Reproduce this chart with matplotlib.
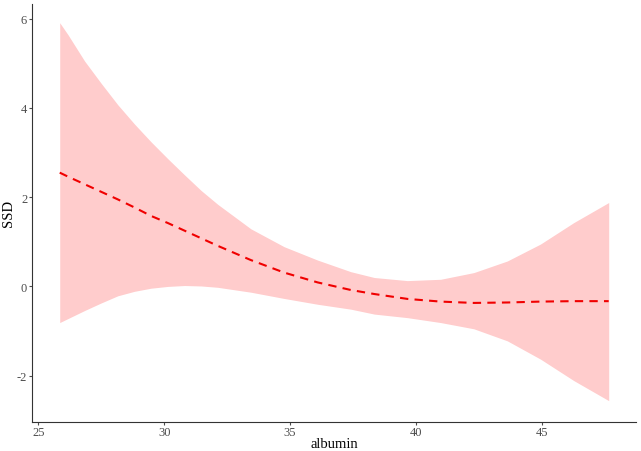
import matplotlib
matplotlib.use("Agg")
import matplotlib.pyplot as plt

# values
albumin = [25.85, 26.18, 26.84, 27.50, 28.16, 28.82, 29.48, 30.15, 30.81, 31.47,
           32.13, 33.45, 34.77, 36.10, 37.42, 38.35, 39.67, 40.99, 42.31, 43.64,
           44.96, 46.28, 47.67]
ssd_fit = [2.55, 2.46, 2.29, 2.12, 1.95, 1.77, 1.58, 1.42, 1.25, 1.08,
           0.91, 0.59, 0.31, 0.09, -0.08, -0.17, -0.28, -0.34, -0.37, -0.36,
           -0.34, -0.33, -0.33]
ssd_upper = [5.91, 5.64, 5.05, 4.55, 4.07, 3.64, 3.24, 2.86, 2.50, 2.15,
             1.84, 1.29, 0.89, 0.59, 0.33, 0.20, 0.13, 0.16, 0.31, 0.57,
             0.95, 1.43, 1.88]
ssd_lower = [-0.81, -0.72, -0.54, -0.37, -0.21, -0.11, -0.04, 0.00, 0.02, 0.01,
             -0.02, -0.13, -0.27, -0.40, -0.51, -0.62, -0.70, -0.81, -0.95, -1.22,
             -1.63, -2.11, -2.56]
x_ticks = [25, 30, 35, 40, 45]
y_ticks = [-2, 0, 2, 4, 6]

plt.rcParams['font.family'] = ['Liberation Serif', 'DejaVu Serif']
plt.rcParams['axes.unicode_minus'] = False

fig = plt.figure(figsize=(6.41, 4.52), dpi=100)
ax = fig.add_axes([0.05, 0.065, 0.942, 0.924])

ax.fill_between(albumin, ssd_lower, ssd_upper, color='#FFCCCC', linewidth=0)
ax.plot(albumin, ssd_fit, color='#F00000', linestyle=(0, (4, 3)), linewidth=1.5)

ax.set_xlim(24.75, 48.75)
ax.set_ylim(-3.03, 6.33)
ax.set_xticks(x_ticks)
ax.set_yticks(y_ticks)

for side in ['top', 'right']:
    ax.spines[side].set_visible(False)
for side in ['left', 'bottom']:
    ax.spines[side].set_color('#333333')
    ax.spines[side].set_linewidth(0.8)
ax.tick_params(colors='#4D4D4D', labelsize=9, length=2.5, width=0.8, pad=1)

ax.set_xlabel('albumin', fontsize=10.5, labelpad=-1)
ax.set_ylabel('SSD', fontsize=10.5, labelpad=1)

fig.savefig('out.png', dpi=100)
plt.close(fig)
